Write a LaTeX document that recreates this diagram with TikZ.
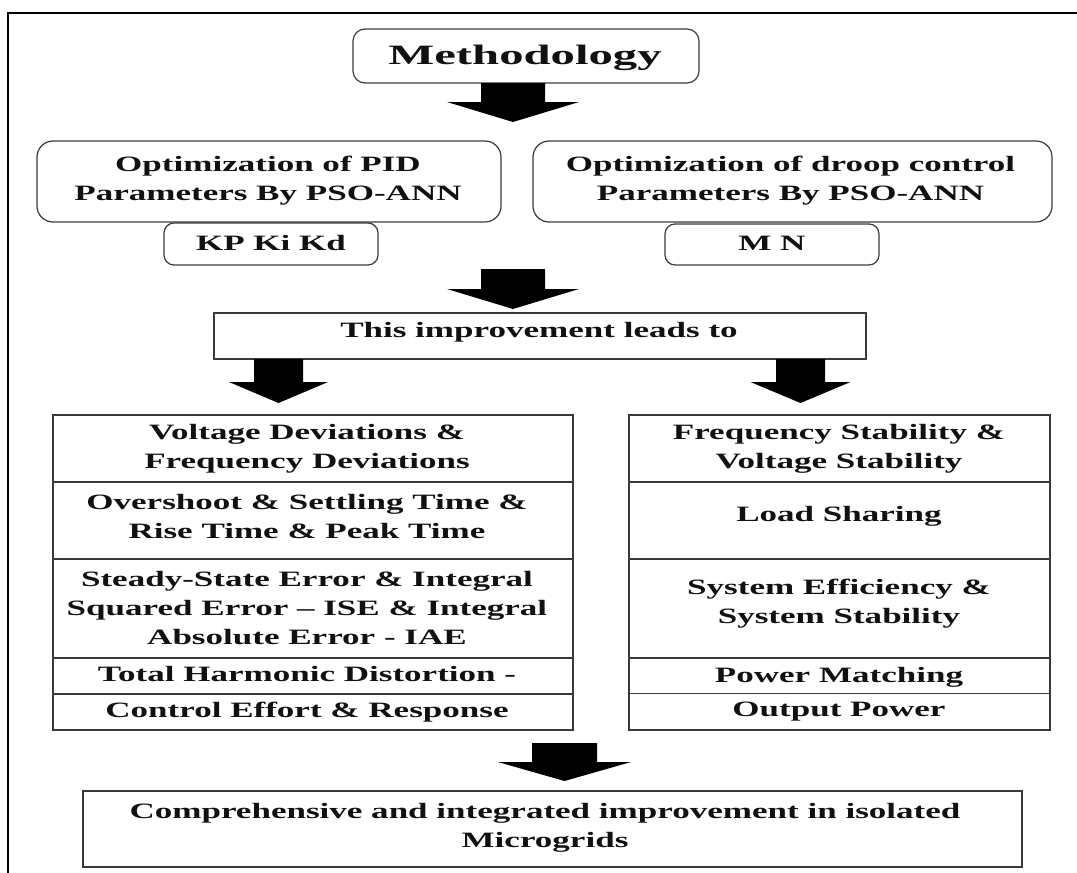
\documentclass[tikz,border=0pt]{standalone}
\usepackage{fontspec}
\setmainfont{Liberation Serif}[FakeStretch=1.6]
\newfontfamily\titlefont{Liberation Serif}[FakeStretch=1.74]
\definecolor{boxline}{HTML}{3A3A3A}
\definecolor{inktext}{HTML}{111111}

% solid block arrow pointing down: centre x, shaft top, head top, tip, shaft half-width, head half-width
\newcommand{\downblock}[6]{%
  \fill[black] (#1-#5,#2) -- (#1+#5,#2) -- (#1+#5,#3) -- (#1+#6,#3)
    -- (#1,#4) -- (#1-#6,#3) -- (#1-#5,#3) -- cycle;}

\tikzset{
  rbox/.style={draw=boxline, line width=1.2pt, rounded corners=#1, inner sep=0pt},
  sbox/.style={draw=boxline, line width=1.3pt, inner sep=0pt},
  cell/.style={draw=boxline, line width=1.3pt, inner sep=0pt},
  txt/.style={align=center, inner sep=0pt, text=inktext,
    font=\fontsize{21.9}{29}\selectfont\bfseries},
  titletxt/.style={inner sep=0pt, text=inktext,
    font=\titlefont\fontsize{28}{34}\selectfont\bfseries},
}

\begin{document}
\begin{tikzpicture}[x=1pt, y=-1pt]
\useasboundingbox (0,0) rectangle (1077,873);

% outer frame (left and top edges)
\draw[line width=2.4pt, black] (8,873) -- (8,13) -- (1077,13);

% heading
\node[rbox=12pt, minimum width=346pt, minimum height=54pt] (meth) at (526,56) {};
\node[titletxt] (methtext) at (525,57.5) {Methodology};

% optimisation blocks
\node[rbox=16pt, minimum width=464pt, minimum height=81pt] (pid) at (269,181.5) {};
\node[txt] (pidtext) at (268,181) {Optimization of PID\\Parameters By PSO-ANN};
\node[rbox=10pt, minimum width=214pt, minimum height=42pt] (kp) at (271,244) {};
\node[txt] (kptext) at (271,243) {KP Ki Kd};

\node[rbox=16pt, minimum width=519pt, minimum height=81pt] (droop) at (792.5,181.5) {};
\node[txt] (drooptext) at (790.5,181) {Optimization of droop control\\Parameters By PSO-ANN};
\node[rbox=10pt, minimum width=214pt, minimum height=41pt] (mn) at (772,244.5) {};
\node[txt] (mntext) at (772,243) {M N};

% result heading
\node[sbox, minimum width=652pt, minimum height=46pt] (lead) at (540,336) {};
\node[txt] (leadtext) at (539,332) {This improvement leads to};

% left column of results
\node[cell, minimum width=520pt, minimum height=67pt] (l1) at (313,448.5) {};
\node[cell, minimum width=520pt, minimum height=77pt] (l2) at (313,520.5) {};
\node[cell, minimum width=520pt, minimum height=99pt] (l3) at (313,608.5) {};
\node[cell, minimum width=520pt, minimum height=36pt] (l4) at (313,676) {};
\node[cell, minimum width=520pt, minimum height=36pt] (l5) at (313,712) {};
\node[txt] (l1text) at (307,449) {Voltage Deviations \&\\Frequency Deviations};
\node[txt] (l2text) at (307,516.5) {Overshoot \& Settling Time \&\\Rise Time \& Peak Time};
\node[txt] (l3text) at (307,608) {Steady-State Error \& Integral\\Squared Error -- ISE \& Integral\\Absolute Error - IAE};
\node[txt] (l4text) at (307,674.5) {Total Harmonic Distortion -};
\node[txt] (l5text) at (307,712) {Control Effort \& Response};

% right column of results
\node[cell, minimum width=421pt, minimum height=67pt] (r1) at (839.5,448.5) {};
\node[cell, minimum width=421pt, minimum height=77pt] (r2) at (839.5,520.5) {};
\node[cell, minimum width=421pt, minimum height=99pt] (r3) at (839.5,608.5) {};
\node[cell, minimum width=421pt, minimum height=35.5pt] (r4) at (839.5,675.75) {};
\node[cell, minimum width=421pt, minimum height=36.5pt] (r5) at (839.5,711.75) {};
\node[txt] (r1text) at (839,449) {Frequency Stability \&\\Voltage Stability};
\node[txt] (r2text) at (839,516.5) {Load Sharing};
\node[txt] (r3text) at (839,604) {System Efficiency \&\\System Stability};
\node[txt] (r4text) at (839,677) {Power Matching};
\node[txt] (r5text) at (839,712) {Output Power};

% conclusion
\node[sbox, minimum width=939pt, minimum height=76pt] (final) at (552.5,829) {};
\node[txt] (finaltext) at (545,827.5) {Comprehensive and integrated improvement in isolated\\Microgrids};

% block arrows between the stages
\downblock{513}{83}{102}{122}{32}{66}
\downblock{513}{269}{289}{309}{32}{66}
\downblock{278.5}{359}{382}{403}{24.5}{49.5}
\downblock{800.5}{359}{382}{403}{24.5}{50}
\downblock{564.5}{743}{762}{781}{32.5}{66.5}

\end{tikzpicture}
\end{document}
